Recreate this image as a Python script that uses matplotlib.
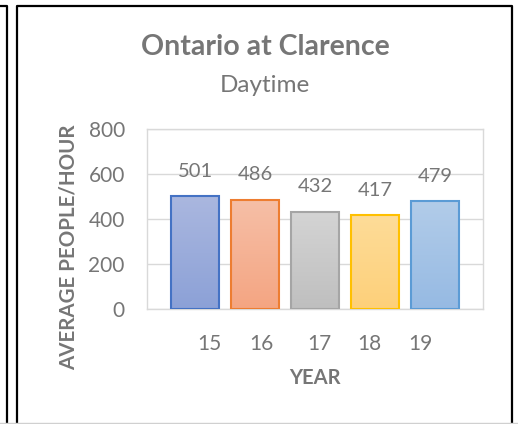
import matplotlib
matplotlib.use("Agg")
import matplotlib.pyplot as plt
import numpy as np
from matplotlib.colors import LinearSegmentedColormap

plt.rcParams["font.family"] = ["Lato", "DejaVu Sans"]

years = ["15", "16", "17", "18", "19"]
people = [501, 486, 432, 417, 479]

edge_colors = ["#4472c4", "#ed7d31", "#a5a5a5", "#ffc000", "#5b9bd5"]
top_colors = ["#aab7df", "#f6bfa7", "#d4d4d4", "#fedc98", "#b2cce9"]
bottom_colors = ["#8ca1d7", "#f4a582", "#bfbfbf", "#fdd07a", "#96bae3"]

W, H = 518, 424
text_gray = "#767676"
grid_gray = "#d9d9d9"

fig = plt.figure(figsize=(W / 100, H / 100), dpi=100)

# frame lines in pixel coordinates
frame = fig.add_axes([0, 0, 1, 1])
frame.set_xlim(0, W)
frame.set_ylim(H, 0)
frame.axis("off")
frame.plot([0, 6.5, 6.5], [5.5, 5.5, H], color="black", lw=1.6)
frame.plot([16.5, 16.5, 512, 512], [H, 5.5, 5.5, H], color="black", lw=1.6)
frame.plot([0, W], [423, 423], color="#d0d0d0", lw=1)

ax = fig.add_axes([147 / W, 1 - 309 / H, 336 / W, 180 / H])
x = np.arange(len(years))
bars = ax.bar(x, people, width=0.8, color="none", edgecolor=edge_colors,
              linewidth=1.5, zorder=3)

# vertical gradient fill for each bar
grad = np.linspace(0, 1, 100).reshape(-1, 1)
for bar, top, bot in zip(bars, top_colors, bottom_colors):
    cmap = LinearSegmentedColormap.from_list("g", [bot, top])
    bx, bw, bh = bar.get_x(), bar.get_width(), bar.get_height()
    im = ax.imshow(grad, cmap=cmap, origin="lower", aspect="auto",
                   extent=[bx, bx + bw, 0, bh], zorder=2)
    im.set_clip_path(bar)

for xi, v in zip(x, people):
    ax.annotate(str(v), (xi, v), xytext=(0, 18), textcoords="offset points",
                ha="center", va="center", fontsize=14.5, color=text_gray)

ax.set_xlim(-0.8, len(years) - 0.2)
ax.set_ylim(0, 800)
ax.set_yticks(range(0, 801, 200))
ax.set_xticks([0.24, 1.1, 2.07, 2.9, 3.76])
ax.set_xticklabels(years)
ax.tick_params(axis="both", length=0, labelsize=15, labelcolor=text_gray)
ax.tick_params(axis="y", pad=16)
ax.tick_params(axis="x", pad=18)
ax.grid(axis="y", color=grid_gray, lw=1, zorder=0)
for s in ax.spines.values():
    s.set_color(grid_gray)
    s.set_linewidth(1)

fig.text(265 / W, 1 - 47 / H, "Ontario at Clarence", ha="center", va="center",
         fontsize=20.5, fontweight="bold", color=text_gray)
fig.text(265 / W, 1 - 86 / H, "Daytime", ha="center", va="center",
         fontsize=17.5, color=text_gray)
fig.text(69 / W, 1 - 247 / H, "AVERAGE PEOPLE/HOUR", ha="center", va="center",
         rotation=90, fontsize=14.8, fontweight="bold", color=text_gray)
fig.text(315 / W, 1 - 378 / H, "YEAR", ha="center", va="center",
         fontsize=14.5, fontweight="bold", color=text_gray)

fig.savefig("out.png", dpi=100)
